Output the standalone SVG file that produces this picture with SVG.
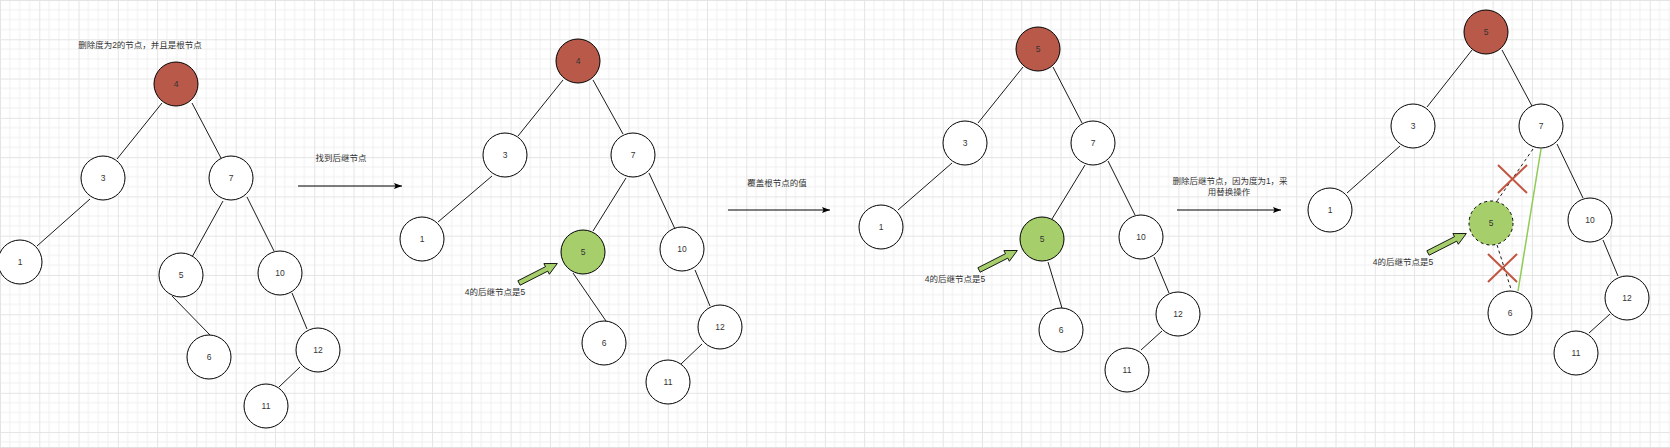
<svg xmlns="http://www.w3.org/2000/svg" xmlns:xlink="http://www.w3.org/1999/xlink" width="1670" height="448" viewBox="0 0 1670 448">
<style>
.n{fill:#ffffff;stroke:#000000;stroke-width:1}
.red{fill:#b9594a;stroke:#000000;stroke-width:1}
.grn{fill:#a6cf6c;stroke:#000000;stroke-width:1}
.grnd{fill:#a6cf6c;stroke:#000000;stroke-width:1;stroke-dasharray:3 3}
.t{font-family:"Liberation Sans","Noto Sans CJK SC",sans-serif;font-size:8.5px;fill:#333333;text-anchor:middle}
.e{stroke:#000000;stroke-width:0.9;fill:none}
.ed{stroke:#000000;stroke-width:0.9;fill:none;stroke-dasharray:3 3}
.eg{stroke:#8fcb55;stroke-width:1.5;fill:none}
.ar{stroke:#000000;stroke-width:1;fill:none;marker-end:url(#ah)}
.x{stroke:#c2553f;stroke-width:2;fill:none}
.ga{fill:#a6cf6c;stroke:#000000;stroke-width:0.8}
</style>
<defs>
<pattern id="grid" width="39.28" height="39.28" patternUnits="userSpaceOnUse">
<path d="M9.82 0V39.28M19.64 0V39.28M29.46 0V39.28M0 9.82H39.28M0 19.64H39.28M0 29.46H39.28" stroke="#efefef" stroke-width="1" fill="none"/>
<path d="M0.5 0V39.28M0 0.5H39.28" stroke="#e4e4e4" stroke-width="1" fill="none"/>
</pattern>
<marker id="ah" markerWidth="8" markerHeight="6" refX="8" refY="3" orient="auto" markerUnits="userSpaceOnUse">
<path d="M0,0 L8,3 L0,6 L1.5,3 Z" fill="#000000"/>
</marker>
<path id="garrow" d="M0,-2.5 L31,-2.5 L31,-6 L43,0 L31,6 L31,2.5 L0,2.5 Z"/>
</defs>
<rect width="1670" height="448" fill="#ffffff"/>
<rect width="1670" height="448" fill="url(#grid)"/>
<line x1="0" y1="447.5" x2="1670" y2="447.5" stroke="#e0e0e0"/>

<g id="connectors">
<!-- tree 1 -->
<line class="e" x1="162" y1="103" x2="117" y2="159"/>
<line class="e" x1="192" y1="103" x2="221" y2="158"/>
<line class="e" x1="90" y1="199" x2="37" y2="246"/>
<line class="e" x1="223" y1="201" x2="192" y2="257"/>
<line class="e" x1="247" y1="197" x2="274" y2="251"/>
<line class="e" x1="172" y1="296" x2="210" y2="335"/>
<line class="e" x1="292" y1="293" x2="307" y2="329"/>
<line class="e" x1="300" y1="367" x2="279" y2="387"/>
<line class="ar" x1="298" y1="186" x2="402" y2="186"/>
<!-- tree 2 -->
<line class="e" x1="563" y1="80" x2="518" y2="136"/>
<line class="e" x1="593" y1="80" x2="623" y2="134"/>
<line class="e" x1="492" y1="176" x2="438" y2="222"/>
<line class="e" x1="626" y1="178" x2="593" y2="231"/>
<line class="e" x1="649" y1="173" x2="675" y2="229"/>
<line class="e" x1="573" y1="273" x2="606" y2="321"/>
<line class="e" x1="695" y1="270" x2="710" y2="306"/>
<line class="e" x1="702" y1="344" x2="681" y2="364"/>
<line class="ar" x1="728" y1="210" x2="830" y2="210"/>
<!-- tree 3 -->
<line class="e" x1="1023" y1="67" x2="978" y2="123"/>
<line class="e" x1="1053" y1="67" x2="1082" y2="123"/>
<line class="e" x1="952" y1="163" x2="898" y2="210"/>
<line class="e" x1="1085" y1="165" x2="1052" y2="219"/>
<line class="e" x1="1108" y1="161" x2="1135" y2="215"/>
<line class="e" x1="1048" y1="262" x2="1062" y2="308"/>
<line class="e" x1="1154" y1="257" x2="1169" y2="293"/>
<line class="e" x1="1162" y1="331" x2="1141" y2="350"/>
<line class="ar" x1="1177" y1="210" x2="1281" y2="210"/>
<!-- tree 4 -->
<line class="e" x1="1472" y1="50" x2="1427" y2="107"/>
<line class="e" x1="1502" y1="50" x2="1532" y2="106"/>
<line class="e" x1="1400" y1="146" x2="1347" y2="193"/>
<line class="ed" x1="1533" y1="149" x2="1497" y2="201"/>
<line class="e" x1="1557" y1="144" x2="1583" y2="198"/>
<line class="ed" x1="1497" y1="245" x2="1511" y2="289"/>
<line class="eg" x1="1541" y1="149" x2="1518" y2="291"/>
<line class="e" x1="1603" y1="240" x2="1618" y2="276"/>
<line class="e" x1="1610" y1="314" x2="1589" y2="333"/>
</g>

<g id="labels">
<text class="t" x="140" y="48">删除度为2的节点，并且是根节点</text>
<text class="t" x="341" y="161">找到后继节点</text>
<text class="t" x="777" y="186">覆盖根节点的值</text>
<text class="t" x="1230" y="184">删除后继节点，因为度为1，采</text>
<text class="t" x="1229" y="195">用替换操作</text>
</g>

<g id="tree1">
<g id="t1-n4"><circle class="red" cx="176" cy="84" r="22"/><text class="t" x="176" y="87">4</text></g>
<g id="t1-n3"><circle class="n" cx="103" cy="178" r="22"/><text class="t" x="103" y="181">3</text></g>
<g id="t1-n7"><circle class="n" cx="231" cy="178" r="22"/><text class="t" x="231" y="181">7</text></g>
<g id="t1-n1"><circle class="n" cx="20" cy="262" r="22"/><text class="t" x="20" y="265">1</text></g>
<g id="t1-n5"><circle class="n" cx="181" cy="275" r="22"/><text class="t" x="181" y="278">5</text></g>
<g id="t1-n10"><circle class="n" cx="280" cy="273" r="22"/><text class="t" x="280" y="276">10</text></g>
<g id="t1-n6"><circle class="n" cx="209" cy="357" r="22"/><text class="t" x="209" y="360">6</text></g>
<g id="t1-n12"><circle class="n" cx="318" cy="350" r="22"/><text class="t" x="318" y="353">12</text></g>
<g id="t1-n11"><circle class="n" cx="266" cy="406" r="22"/><text class="t" x="266" y="409">11</text></g>
</g>

<g id="tree2">
<g id="t2-n4"><circle class="red" cx="578" cy="61" r="22"/><text class="t" x="578" y="64">4</text></g>
<g id="t2-n3"><circle class="n" cx="505" cy="155" r="22"/><text class="t" x="505" y="158">3</text></g>
<g id="t2-n7"><circle class="n" cx="633" cy="155" r="22"/><text class="t" x="633" y="158">7</text></g>
<g id="t2-n1"><circle class="n" cx="422" cy="239" r="22"/><text class="t" x="422" y="242">1</text></g>
<g id="t2-n5"><circle class="grn" cx="583" cy="252" r="22"/><text class="t" x="583" y="255">5</text></g>
<g id="t2-n10"><circle class="n" cx="682" cy="249" r="22"/><text class="t" x="682" y="252">10</text></g>
<g id="t2-n6"><circle class="n" cx="604" cy="343" r="22"/><text class="t" x="604" y="346">6</text></g>
<g id="t2-n12"><circle class="n" cx="720" cy="327" r="22"/><text class="t" x="720" y="330">12</text></g>
<g id="t2-n11"><circle class="n" cx="668" cy="382" r="22"/><text class="t" x="668" y="385">11</text></g>
<g id="t2-pointer"><use href="#garrow" class="ga" transform="translate(519,283) rotate(-27)"/><text class="t" x="495" y="295">4的后继节点是5</text></g>
</g>

<g id="tree3">
<g id="t3-n5top"><circle class="red" cx="1038" cy="49" r="22"/><text class="t" x="1038" y="52">5</text></g>
<g id="t3-n3"><circle class="n" cx="965" cy="143" r="22"/><text class="t" x="965" y="146">3</text></g>
<g id="t3-n7"><circle class="n" cx="1093" cy="143" r="22"/><text class="t" x="1093" y="146">7</text></g>
<g id="t3-n1"><circle class="n" cx="881" cy="227" r="22"/><text class="t" x="881" y="230">1</text></g>
<g id="t3-n5"><circle class="grn" cx="1042" cy="239" r="22"/><text class="t" x="1042" y="242">5</text></g>
<g id="t3-n10"><circle class="n" cx="1141" cy="237" r="22"/><text class="t" x="1141" y="240">10</text></g>
<g id="t3-n6"><circle class="n" cx="1061" cy="330" r="22"/><text class="t" x="1061" y="333">6</text></g>
<g id="t3-n12"><circle class="n" cx="1178" cy="314" r="22"/><text class="t" x="1178" y="317">12</text></g>
<g id="t3-n11"><circle class="n" cx="1127" cy="370" r="22"/><text class="t" x="1127" y="373">11</text></g>
<g id="t3-pointer"><use href="#garrow" class="ga" transform="translate(979,270) rotate(-27)"/><text class="t" x="955" y="282">4的后继节点是5</text></g>
</g>

<g id="tree4">
<g id="t4-n5top"><circle class="red" cx="1486" cy="32" r="22"/><text class="t" x="1486" y="35">5</text></g>
<g id="t4-n3"><circle class="n" cx="1413" cy="126" r="22"/><text class="t" x="1413" y="129">3</text></g>
<g id="t4-n7"><circle class="n" cx="1541" cy="126" r="22"/><text class="t" x="1541" y="129">7</text></g>
<g id="t4-n1"><circle class="n" cx="1330" cy="210" r="22"/><text class="t" x="1330" y="213">1</text></g>
<g id="t4-n5"><circle class="grnd" cx="1491" cy="223" r="22"/><text class="t" x="1491" y="226">5</text></g>
<g id="t4-n10"><circle class="n" cx="1590" cy="220" r="22"/><text class="t" x="1590" y="223">10</text></g>
<g id="t4-n6"><circle class="n" cx="1510" cy="313" r="22"/><text class="t" x="1510" y="316">6</text></g>
<g id="t4-n12"><circle class="n" cx="1627" cy="298" r="22"/><text class="t" x="1627" y="301">12</text></g>
<g id="t4-n11"><circle class="n" cx="1576" cy="353" r="22"/><text class="t" x="1576" y="356">11</text></g>
<g id="t4-pointer"><use href="#garrow" class="ga" transform="translate(1428,253) rotate(-27)"/><text class="t" x="1403" y="265">4的后继节点是5</text></g>
<g id="t4-cross1"><path class="x" d="M1498,165 L1527,193 M1527,165 L1498,193"/></g>
<g id="t4-cross2"><path class="x" d="M1488,254 L1517,282 M1517,254 L1488,282"/></g>
</g>
</svg>
